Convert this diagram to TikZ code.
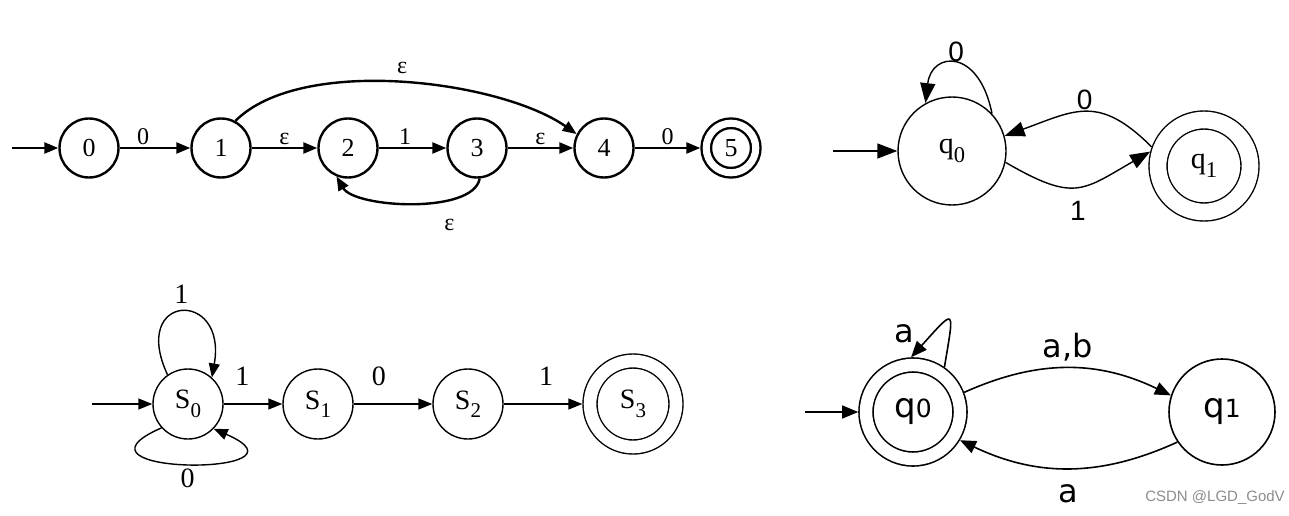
\documentclass[tikz,border=0pt]{standalone}
\usepackage{fontspec}
\setmainfont{Liberation Serif}
\newfontfamily\arialfont{Liberation Sans}
\newfontfamily\verdfont{DejaVu Sans}
\usepackage{tikz}
\usetikzlibrary{arrows.meta}
\newcommand{\lowsub}[1]{\raisebox{-0.3em}{\scalebox{0.75}{#1}}}
\tikzset{
  tlstate/.style={circle,draw,line width=1.2pt,minimum size=29.5pt,inner sep=0pt,font=\fontsize{13}{15}\selectfont},
  tlfinal/.style={tlstate,minimum size=24.75pt,double,double distance=3.55pt,outer sep=2.975pt},
  tledge/.style={->,>={Triangle[length=7pt,width=5.5pt]},line width=1.2pt},
  tllbl/.style={inner sep=1pt,font=\fontsize{12}{14}\selectfont},
  trstate/.style={circle,draw,line width=0.7pt,minimum size=54pt,inner sep=0pt,font=\fontsize{15}{17}\selectfont},
  trfinal/.style={trstate,minimum size=46pt,double,double distance=8.3pt,outer sep=4.85pt},
  tredge/.style={->,>={Triangle[length=10pt,width=7.5pt]},line width=0.7pt},
  trlbl/.style={inner sep=1pt,font=\arialfont\fontsize{14}{16}\selectfont},
  blstate/.style={circle,draw,line width=0.7pt,minimum size=35pt,inner sep=0pt,font=\fontsize{14}{16}\selectfont},
  blfinal/.style={blstate,minimum size=43pt,double,double distance=6.3pt,outer sep=3.85pt},
  bledge/.style={->,>={Triangle[length=7pt,width=5.5pt]},line width=0.7pt},
  bllbl/.style={inner sep=1pt,font=\fontsize{14}{16}\selectfont},
  brstate/.style={circle,draw,line width=0.8pt,minimum size=53pt,inner sep=0pt,font=\verdfont\fontsize{17}{20}\selectfont},
  brfinal/.style={brstate,minimum size=47pt,double,double distance=6.2pt,outer sep=3.9pt},
  bredge/.style={->,>={Triangle[length=8pt,width=6.5pt]},line width=0.8pt},
  brlbl/.style={inner sep=1pt,font=\verdfont\fontsize{16}{19}\selectfont},
}

\begin{document}
\begin{tikzpicture}[x=0.5pt,y=0.5pt]
    \useasboundingbox (0,0) rectangle (1289,515);
    \node[tlstate] (n0) at (89,367) {0};
    \node[tlstate] (n1) at (221,367) {1};
    \node[tlstate] (n2) at (348,367) {2};
    \node[tlstate] (n3) at (477,367) {3};
    \node[tlstate] (n4) at (604,367) {4};
    \node[tlfinal] (n5) at (731,367) {5};
    \coordinate (tlin) at (12,367);
    \draw[tledge] (tlin) -- (n0);
    \draw[tledge] (n0) -- node[tllbl,pos=0.33,above] (e01) {0} (n1);
    \draw[tledge] (n1) -- node[tllbl,above] (e12) {ε} (n2);
    \draw[tledge] (n2) -- node[tllbl,pos=0.39,above] (e23) {1} (n3);
    \draw[tledge] (n3) -- node[tllbl,above] (e34) {ε} (n4);
    \draw[tledge] (n4) -- node[tllbl,above] (e45) {0} (n5);
    \draw[tledge] (n1.62) to[out=45,in=145,looseness=0.7] node[tllbl,above=3pt] (e14) {ε} (n4.153);
    \draw[tledge] (n3.-85) to[out=-100,in=-60,looseness=0.65] node[tllbl,pos=0.3,below=8pt] (e32) {ε} (n2.-112);

    \node[trstate] (q0) at (952,364) {q\lowsub{0}};
    \node[trfinal] (q1) at (1204,349) {q\lowsub{1}};
    \coordinate (trin) at (833,364);
    \draw[tredge] (trin) -- (q0);
    \draw[tredge] (q0.43) .. controls +(-13,66) and +(6,52) .. node[trlbl,above] (eq00) {0} (q0.119);
    \draw[tredge] (q1.160) to[out=135,in=20,looseness=1.3] node[trlbl,above] (eq10) {0} (q0.16);
    \draw[tredge] (q0.-12) to[out=-30,in=210,looseness=1.4] node[trlbl,below=6pt] (eq01) {1} (q1.165);

    \node[blstate] (s0) at (188,111) {S\lowsub{0}};
    \node[blstate] (s1) at (318,111) {S\lowsub{1}};
    \node[blstate] (s2) at (468,111) {S\lowsub{2}};
    \node[blfinal] (s3) at (633,111) {S\lowsub{3}};
    \coordinate (blin) at (92,111);
    \draw[bledge] (blin) -- (s0);
    \draw[bledge] (s0.125) to[out=115,in=80,looseness=5.2] node[bllbl,above=3pt] (es00a) {1} (s0.48);
    \draw[bledge] (s0.222) .. controls +(-110,-48) and +(110,-48) .. node[bllbl,below=1pt] (es00b) {0} (s0.-44);
    \draw[bledge] (s0) -- node[bllbl,pos=0.32,above=8pt] (es01) {1} (s1);
    \draw[bledge] (s1) -- node[bllbl,pos=0.32,above=8pt] (es12) {0} (s2);
    \draw[bledge] (s2) -- node[bllbl,pos=0.54,above=8pt] (es23) {1} (s3);

    \node[brfinal] (p0) at (913,103) {q{\fontsize{12.5}{14}\selectfont 0}};
    \node[brstate] (p1) at (1222,103) {q{\fontsize{12.5}{14}\selectfont 1}};
    \coordinate (brin) at (805,103);
    \draw[bredge] (brin) -- (p0);
    \draw[bredge] (p0.55) .. controls +(10,60) and +(45,50) .. node[brlbl,pos=0.8,left=8pt] (ep00) {a} (p0.92);
    \draw[bredge] (p0.21) to[bend left=25] node[brlbl,above=2pt] (ep01) {a,b} (p1.162);
    \draw[bredge] (p1.214) to[bend left=25] node[brlbl,below=7pt] (ep10) {a} (p0.-31);
    \node[font=\arialfont\fontsize{7.5}{9}\selectfont,text=black!45] (mark) at (1215,17) {CSDN @LGD\_GodV};
\end{tikzpicture}
\end{document}
